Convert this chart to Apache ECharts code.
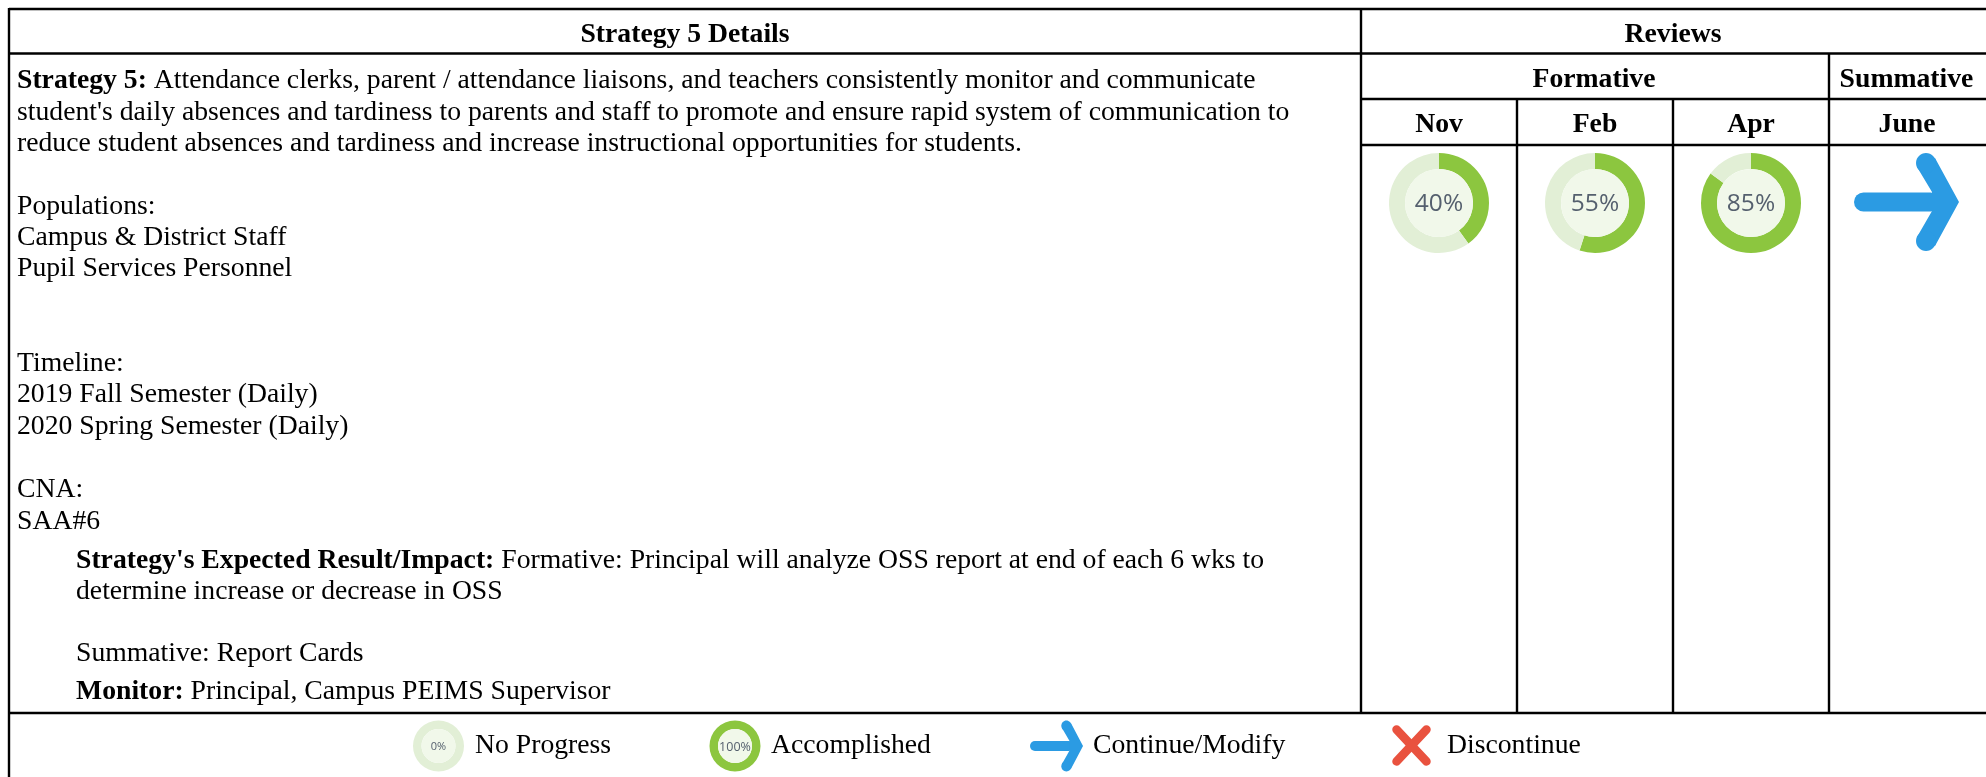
<!DOCTYPE html>
<html><head><meta charset="utf-8">
<style>html,body{margin:0;padding:0;background:#fff}#c{width:1986px;height:777px}</style>
<script src="https://cdn.jsdelivr.net/npm/echarts@6/dist/echarts.min.js"></script>
</head><body><div id="c"></div>
<script>
const reviewMonths = ['Nov', 'Feb', 'Apr', 'June'];
const reviewValues = [40, 55, 85];
const legendValues = [0, 100];
const legendLabels = ['No Progress', 'Accomplished', 'Continue/Modify', 'Discontinue'];
const bodyLines = [
  [['Strategy 5: ', 1], ['Attendance clerks, parent / attendance liaisons, and teachers consistently monitor and communicate', 0]],
  [["student's daily absences and tardiness to parents and staff to promote and ensure rapid system of communication to", 0]],
  [['reduce student absences and tardiness and increase instructional opportunities for students.', 0]]
];
const plainLines = [
  ['Populations:', 207], ['Campus & District Staff', 238], ['Pupil Services Personnel', 269],
  ['Timeline:', 364], ['2019 Fall Semester (Daily)', 395], ['2020 Spring Semester (Daily)', 427],
  ['CNA:', 490], ['SAA#6', 522]
];
const SERIF = '"Liberation Serif"';
const FS = 27.7;
const GREEN = '#8cc63f', PALE = '#e2efd6', DISC = '#f1f8ea', BLUE = '#2b9be3', RED = '#e9523f';
const chart = echarts.init(document.getElementById('c'));
const g = [];
function line(x1, y1, x2, y2, w) {
  g.push({type:'line', shape:{x1,y1,x2,y2}, style:{stroke:'#000', lineWidth:w||2.4}, z:5});
}
function text(t, x, y, o) {
  o = o || {};
  g.push({type:'text', x, y, z:6, style:{text:t, fill:'#000', font:(o.bold?'bold ':'')+(o.size||FS)+'px '+SERIF, textAlign:o.align||'left', textVerticalAlign:'middle'}});
}
line(9,9,1986,9); line(9,53.5,1986,53.5); line(1361,99,1986,99); line(1361,145,1986,145); line(9,713,1986,713);
line(9,8,9,777);
line(1361,9,1361,713); line(1517,99,1517,713); line(1673,99,1673,713); line(1829,53.5,1829,713);
text('Strategy 5 Details', 685, 35, {bold:1, align:'center'});
text('Reviews', 1673, 35, {bold:1, align:'center'});
text('Formative', 1594, 80, {bold:1, align:'center'});
text('Summative', 1906.5, 80, {bold:1, align:'center'});
reviewMonths.forEach((m,i)=>text(m, 1439+156*i, 125, {bold:1, align:'center'}));
function rich(y, x, parts) {
  const ctx = document.createElement('canvas').getContext('2d');
  let cx = x;
  parts.forEach(([t,b])=>{
    text(t, cx, y, {bold:b});
    ctx.font=(b?'bold ':'')+FS+'px '+SERIF;
    cx += ctx.measureText(t).width;
  });
}
bodyLines.forEach((l,i)=>rich(81+i*31.5, 17, l));
plainLines.forEach(l=>text(l[0], 17, l[1]));
rich(561, 76, [["Strategy's Expected Result/Impact: ",1],['Formative: Principal will analyze OSS report at end of each 6 wks to',0]]);
rich(592, 76, [['determine increase or decrease in OSS',0]]);
rich(654, 76, [['Summative: Report Cards',0]]);
rich(692, 76, [['Monitor: ',1],['Principal, Campus PEIMS Supervisor',0]]);
[475,771,1093,1447].forEach((x,i)=>text(legendLabels[i], x, 746));
function arrow(ox, oy, sx, sy) {
  const X = x=>ox+(x-1854)*sx, Y = y=>oy+(y-202)*sy;
  const fill = {fill:BLUE};
  g.push({type:'rect', z:4, shape:{x:X(1854), y:Y(192.5), width:X(1940)-X(1854), height:Y(211.5)-Y(192.5), r:(Y(211.5)-Y(192.5))/2}, style:fill});
  g.push({type:'polygon', z:4, shape:{points:[[1917,167],[1935,158],[1959,202],[1935,246],[1917,237],[1932,211],[1932,192]].map(p=>[X(p[0]),Y(p[1])])}, style:fill});
  [163,241].forEach(cy=>g.push({type:'ellipse', z:4, shape:{cx:X(1926), cy:Y(cy), rx:10*sx, ry:10*sy}, style:fill}));
}
arrow(1854,202,1,1);
arrow(1030,746,0.505,0.52);
g.push({type:'line', z:4, shape:{x1:1396.5,y1:729.5,x2:1426.5,y2:761.5}, style:{stroke:RED, lineWidth:8.5, lineCap:'round'}});
g.push({type:'line', z:4, shape:{x1:1426.5,y1:729.5,x2:1396.5,y2:761.5}, style:{stroke:RED, lineWidth:8.5, lineCap:'round'}});
function donut(value, center, rO, rI) {
  return {type:'pie', silent:true, animation:false, center, radius:[rI, rO], startAngle:90, clockwise:true,
    label:{show:false}, labelLine:{show:false},
    data:[{value, itemStyle:{color:GREEN}}, {value:100-value, itemStyle:{color:PALE}}]};
}
function disc(center, r, value, fs) {
  return {type:'pie', silent:true, animation:false, center, radius:[0, r], z:3, startAngle:90,
    data:[{value:1, itemStyle:{color:DISC}}],
    label:{show:true, position:'center', formatter:value+'%', fontFamily:'"Open Sans"', fontSize:fs, color:'#55606e', offset:[0,1]}, labelLine:{show:false}};
}
const series = [];
reviewValues.forEach((v,i)=>{
  const c = [1439+156*i, 203];
  series.push(donut(v,c,50,34), disc(c,34,v,24.5));
});
legendValues.forEach((v,i)=>{
  const c = [[438.5,735][i], 746];
  series.push(donut(v,c,25.5,17), disc(c,17,v,v===100?12.5:11));
});
chart.setOption({animation:false, backgroundColor:'#fff', series, graphic:{elements:g}});
</script></body></html>
